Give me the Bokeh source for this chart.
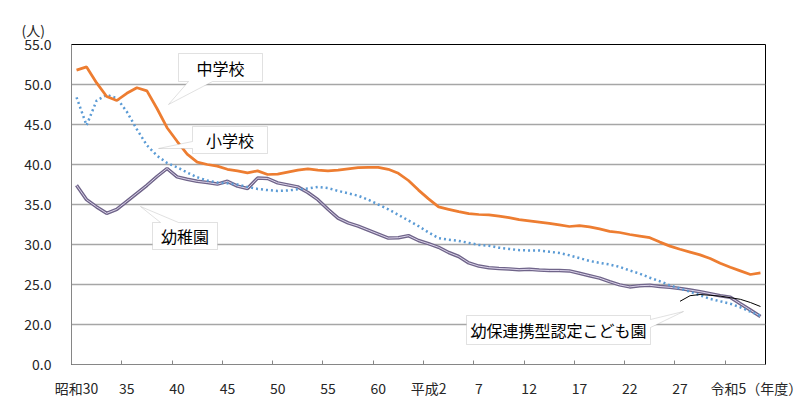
from bokeh.plotting import figure
from bokeh.models import Range1d, FixedTicker, Label, PolyAnnotation, Title
from bokeh.embed import file_html
from bokeh.resources import INLINE

# ---- data ----
years = list(range(1955, 2024))
chugakko = [51.8, 52.2, 50.2, 48.5, 48.0, 48.9, 49.6, 49.2, 47.0, 44.6,
            42.9, 41.3, 40.3, 40.0, 39.8, 39.4, 39.2, 38.95, 39.2, 38.75,
            38.8, 39.05, 39.3, 39.45, 39.3, 39.2, 39.3, 39.45, 39.6, 39.65,
            39.65, 39.4, 38.9, 38.0, 36.8, 35.7, 34.7, 34.4, 34.1, 33.85,
            33.75, 33.7, 33.55, 33.35, 33.1, 32.95, 32.8, 32.65, 32.45, 32.25,
            32.35, 32.2, 31.95, 31.65, 31.5, 31.25, 31.05, 30.85, 30.3, 29.8,
            29.4, 29.05, 28.7, 28.25, 27.65, 27.15, 26.7, 26.25, 26.45]
shogakko = [48.4, 44.9, 48.0, 48.7, 48.3, 46.6, 44.4, 42.4, 41.1, 40.2,
            39.65, 39.0, 38.4, 38.0, 37.75, 37.65, 37.5, 37.2, 36.95, 36.8,
            36.7, 36.75, 36.9, 37.0, 37.2, 37.05, 36.7, 36.4, 36.1, 35.6,
            35.0, 34.4, 33.7, 33.0, 32.3, 31.5, 30.8, 30.6, 30.45, 30.2,
            29.95, 29.85, 29.6, 29.45, 29.3, 29.25, 29.25, 29.1, 28.95, 28.65,
            28.3, 27.95, 27.7, 27.5, 27.2, 26.75, 26.35, 25.85, 25.4, 24.9,
            24.5, 24.1, 23.65, 23.2, 22.9, 22.6, 22.15, 21.6, 21.1]
yochien = [37.4, 35.6, 34.7, 33.9, 34.4, 35.4, 36.4, 37.4, 38.5, 39.5,
           38.45, 38.15, 37.9, 37.75, 37.55, 37.9, 37.3, 37.0, 38.3, 38.25,
           37.7, 37.45, 37.2, 36.5, 35.6, 34.4, 33.3, 32.7, 32.3, 31.8,
           31.3, 30.8, 30.85, 31.1, 30.5, 30.1, 29.65, 29.0, 28.5, 27.7,
           27.3, 27.1, 27.0, 26.95, 26.85, 26.9, 26.8, 26.75, 26.75, 26.7,
           26.4, 26.1, 25.8, 25.35, 24.95, 24.7, 24.85, 24.9, 24.75, 24.65,
           24.5, 24.3, 24.1, 23.85, 23.6, 23.4, 22.6, 21.8, 21.0]
kodomoen_years = list(range(2015, 2024))
kodomoen = [22.9, 23.6, 23.75, 23.65, 23.55, 23.35, 23.15, 22.75, 22.25]

tick_years = [1955, 1960, 1965, 1970, 1975, 1980, 1985, 1990, 1995, 2000, 2005, 2010, 2015]
tick_labels = ["昭和30", "35", "40", "45", "50", "55", "60", "平成2", "7", "12", "17", "22", "27"]
last_label = "令和5（年度）"
y_ticks = [15, 20, 25, 30, 35, 40, 45, 50, 55]
y_labels = ["0.0", "20.0", "25.0", "30.0", "35.0", "40.0", "45.0", "50.0", "55.0"]
unit_label = "(人)"

FONT = "Noto Sans CJK JP"

X0, X1 = 1954.5, 2023.5
Y0, Y1 = 15, 55

p = figure(width=802, height=403, x_range=Range1d(X0, X1), y_range=Range1d(Y0, Y1),
           output_backend="svg", toolbar_location=None,
           min_border_left=71, min_border_right=37, min_border_top=44, min_border_bottom=39)
p.background_fill_color = "white"
p.border_fill_color = "white"
p.outline_line_color = "#000000"
p.outline_line_width = 1

# blank spacer title next to the frame, unit label stacked above it
p.title.text = " "
p.title.text_font_size = "6px"
p.title.standoff = 0
p.add_layout(Title(text=unit_label, align="left", offset=-50, text_font=FONT,
                   text_font_size="14px", text_font_style="normal",
                   text_color="#262626"), "above")

p.xgrid.visible = False
p.ygrid.grid_line_color = "#a6a6a6"
p.ygrid.grid_line_width = 1.5

p.yaxis.ticker = FixedTicker(ticks=y_ticks)
p.yaxis.major_label_overrides = dict(zip(y_ticks, y_labels))
p.yaxis.major_tick_in = 0
p.yaxis.major_tick_out = 0
p.yaxis.minor_tick_in = 0
p.yaxis.minor_tick_out = 0
p.yaxis.major_label_standoff = 20

# the closing label sits right of the last year's category, ending near the window edge
last_pos = 2022.6
x_ticks = tick_years + [last_pos]
x_labels = tick_labels + [last_label]
p.xaxis.ticker = FixedTicker(ticks=x_ticks, minor_ticks=[t + 4.5 for t in tick_years])
p.xaxis.major_label_overrides = dict(zip(x_ticks, x_labels))
p.xaxis.major_tick_in = 0
p.xaxis.major_tick_out = 0
p.xaxis.minor_tick_in = 4
p.xaxis.minor_tick_out = 0
p.xaxis.minor_tick_line_color = "#868686"
p.xaxis.major_label_standoff = 13

for ax in (p.xaxis, p.yaxis):
    ax.axis_line_color = "#868686"
    ax.axis_line_width = 1
    ax.major_label_text_font = FONT
    ax.major_label_text_font_size = "14px"
    ax.major_label_text_color = "#262626"

# ---- series ----
p.line(years, yochien, line_color="#6f6489", line_width=3.5)
p.line(years, yochien, line_color="#dcd4ea", line_width=1)
p.line(years, shogakko, line_color="#5b9bd5", line_width=2.5, line_dash="2 3")
p.line(years, chugakko, line_color="#ed7d31", line_width=2.75)
p.line(kodomoen_years, kodomoen, line_color="#000000", line_width=1)

# ---- callouts (positions given in page pixels, converted to data) ----
FL, FR, FT, FB = 71, 765, 44, 364
def dx(px):
    return X0 + (px - FL) * (X1 - X0) / (FR - FL)
def dy(py):
    return Y1 - (py - FT) * (Y1 - Y0) / (FB - FT)

def callout(pts, text, cx, cy):
    p.add_layout(PolyAnnotation(xs=[dx(a) for a, b in pts], ys=[dy(b) for a, b in pts],
                                fill_color="white", fill_alpha=1.0,
                                line_color="#9a9a9a", line_width=1))
    p.add_layout(Label(x=dx(cx), y=dy(cy), text=text, text_align="center",
                       text_baseline="middle", text_font=FONT, text_font_size="16px",
                       text_color="#000000"))

callout([(178, 53), (262, 53), (262, 81), (212, 81), (168, 104), (188, 81), (178, 81)],
        "中学校", 220, 67)
callout([(192, 126), (267, 126), (267, 153), (192, 153), (192, 148), (158, 148), (192, 141)],
        "小学校", 229.5, 139.5)
callout([(152, 222), (160, 222), (140, 206), (178, 222), (217, 222), (217, 249), (152, 249)],
        "幼稚園", 184.5, 235.5)
callout([(466, 315), (650, 315), (650, 319), (683, 311), (650, 327), (650, 344), (466, 344)],
        "幼保連携型認定こども園", 558, 329.5)

open("out.html", "w").write(file_html(p, INLINE))
